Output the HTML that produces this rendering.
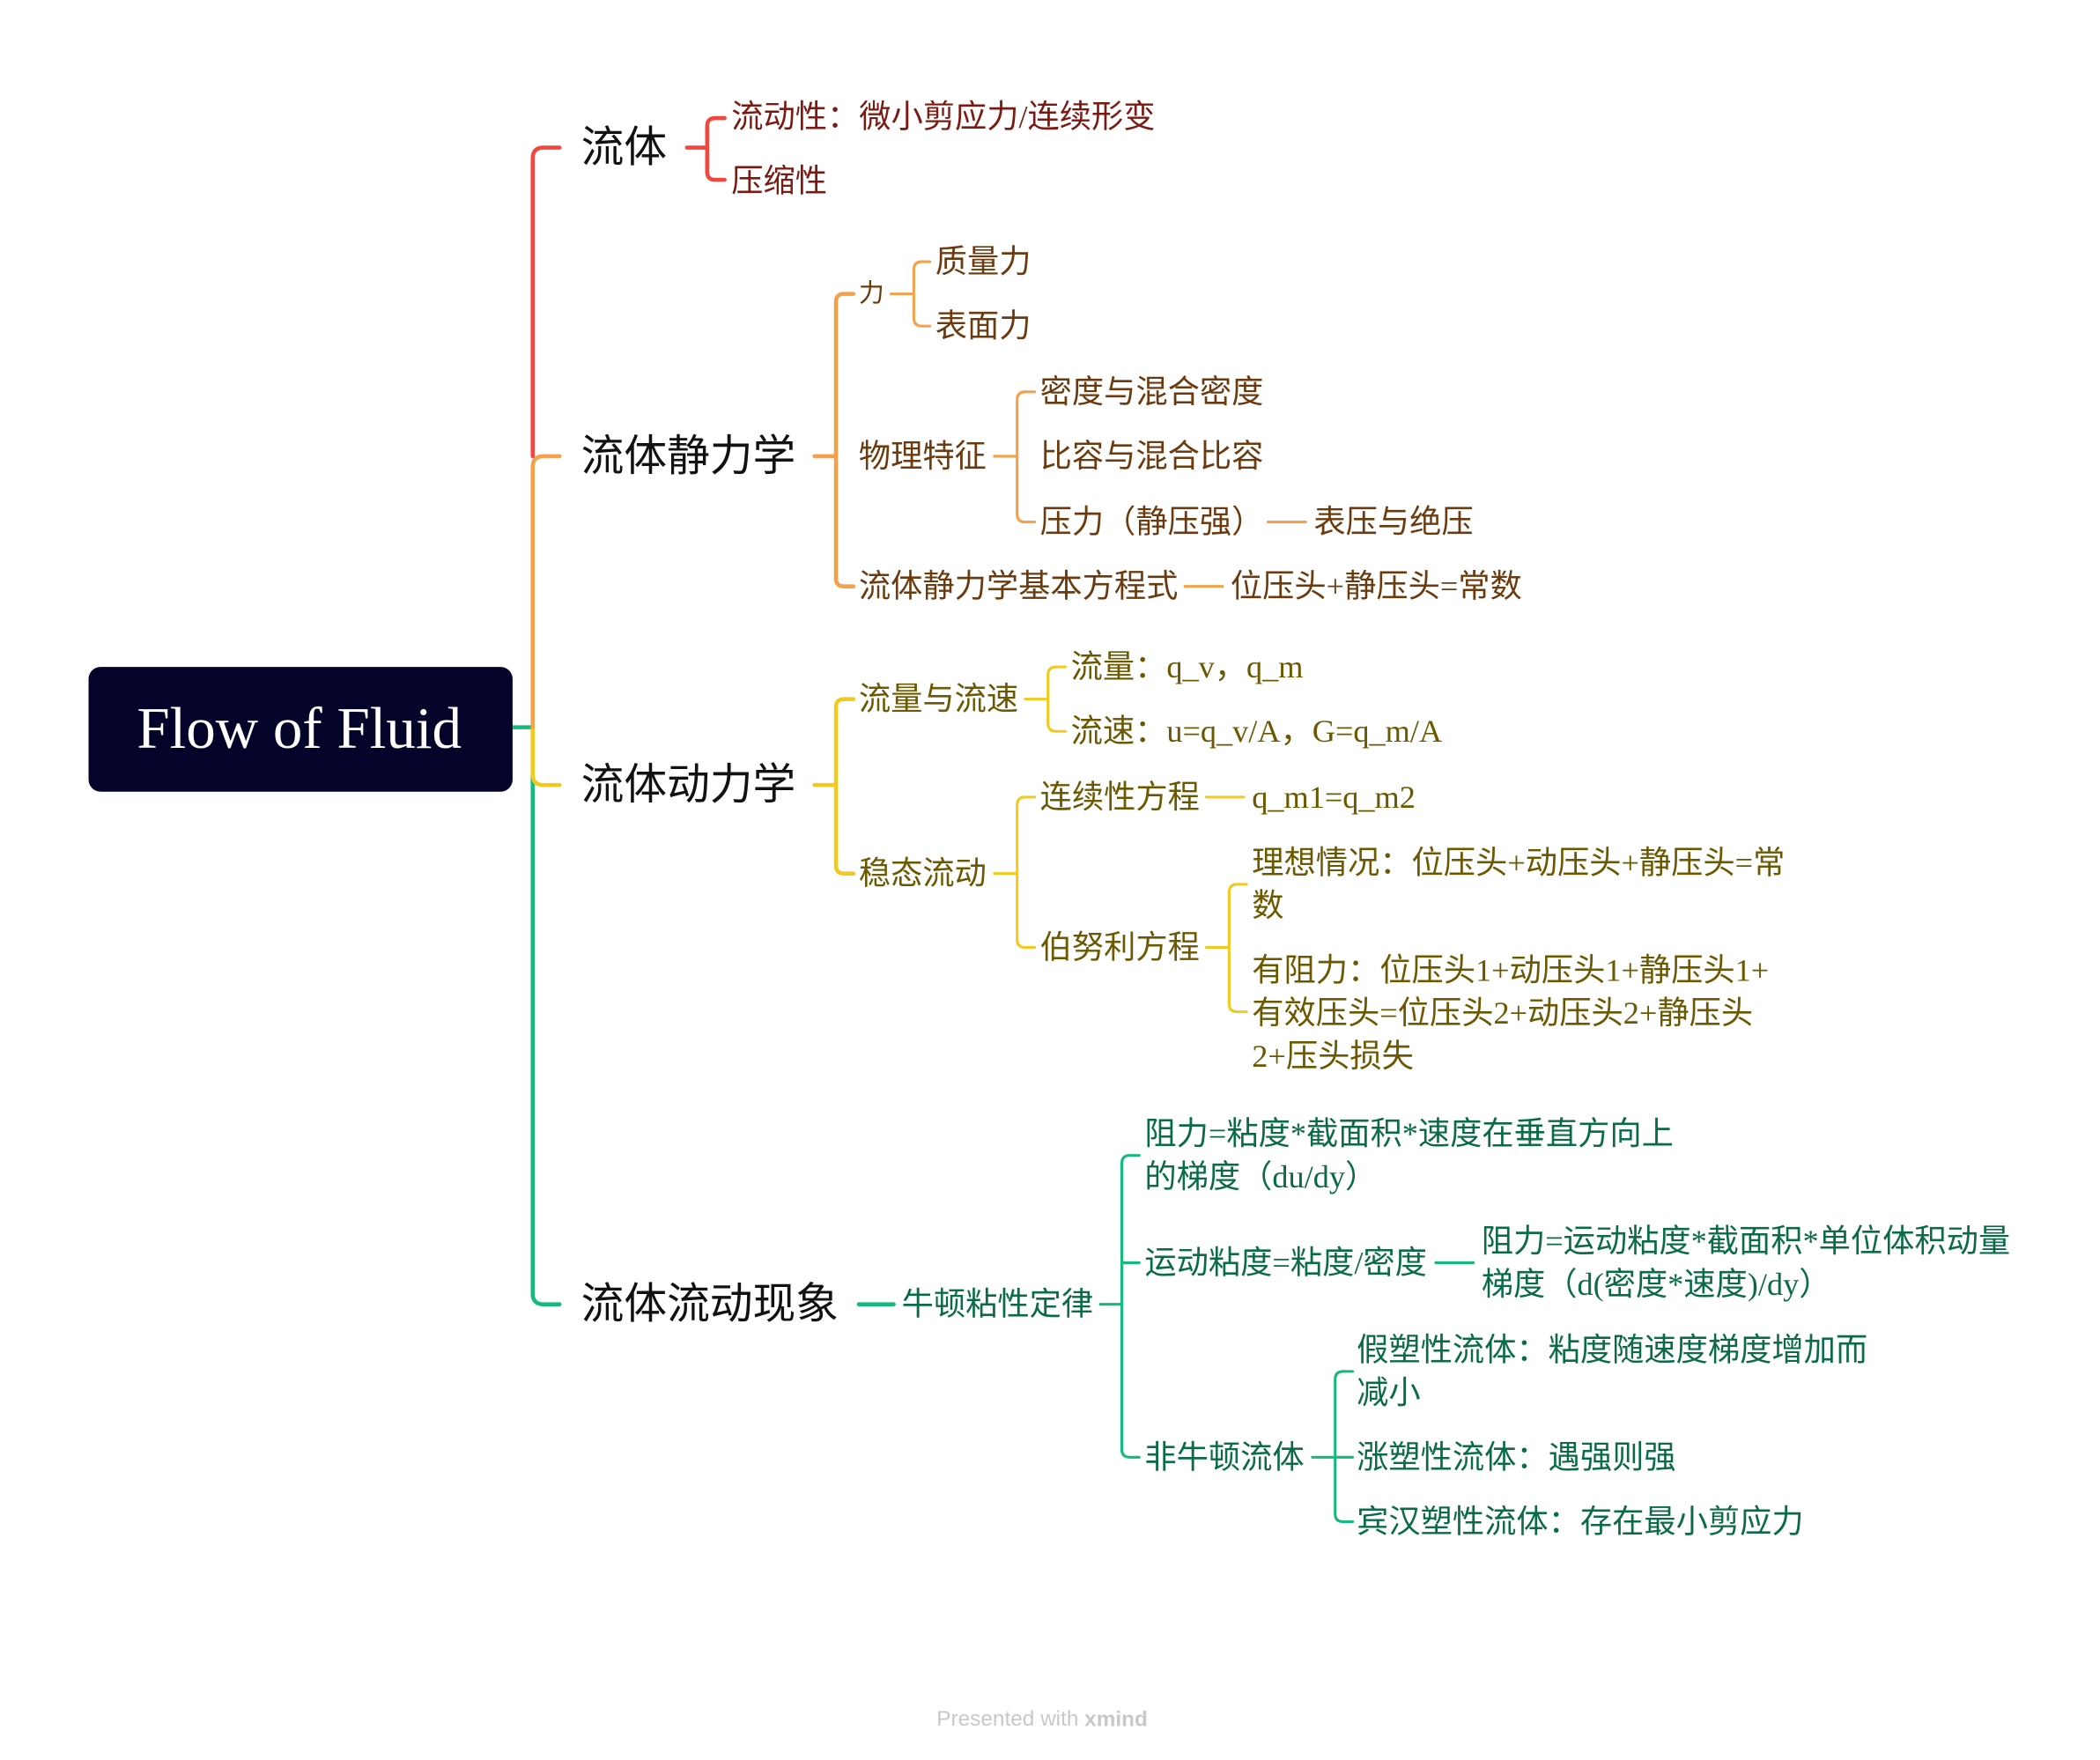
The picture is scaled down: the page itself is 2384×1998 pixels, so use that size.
<!DOCTYPE html>
<html><head><meta charset="utf-8"><style>
html,body{margin:0;padding:0;background:#fff;width:2384px;height:1998px;overflow:hidden}
svg{display:block}
text{font-family:"Liberation Serif","Noto Sans CJK SC",serif;dominant-baseline:central}
.l1{font-family:"Liberation Sans","Noto Sans CJK SC",sans-serif;font-size:32px;fill:#111}
.t{font-size:23.8px}
.r{fill:#7a1a12}.o{fill:#6b3a0e}.y{fill:#6b5800}.g{fill:#0b6b47}
path{fill:none;stroke-linecap:round;stroke-linejoin:round}
</style></head><body>
<svg width="2384" height="1998" viewBox="0 0 1565 1311.6" xmlns="http://www.w3.org/2000/svg">
<!-- trunk -->
<path d="M382 542 H397 V964 Q397 972 405 972 H417" stroke="#14b97b" stroke-width="3"/>
<path d="M397 542 V577 Q397 585 405 585 H417" stroke="#f2c91e" stroke-width="3"/>
<path d="M397 542 V348 Q397 340 405 340 H417" stroke="#f5a04a" stroke-width="3"/>
<path d="M397 340 V118 Q397 110 405 110 H417" stroke="#f2473f" stroke-width="3"/>
<!-- root -->
<rect x="66" y="497" width="316" height="93" rx="9" fill="#04042a"/>
<text x="223" y="543" text-anchor="middle" style="font-size:44px;fill:#fff">Flow of Fluid</text>

<!-- 流体 -->
<text class="l1" x="433" y="110">流体</text>
<path d="M512 110 H527 M540 88 H533 Q527 88 527 94 V128 Q527 134 533 134 H540" stroke="#f2473f" stroke-width="3"/>
<text class="t r" x="545" y="87">流动性：微小剪应力/连续形变</text>
<text class="t r" x="545" y="135">压缩性</text>

<!-- 流体静力学 -->
<text class="l1" x="433" y="340">流体静力学</text>
<path d="M607 340 H623 M636 219 H629 Q623 219 623 225 V431 Q623 437 629 437 H636" stroke="#f5a04a" stroke-width="3"/>
<text class="o" x="640" y="219" style="font-size:19px">力</text>
<path d="M664 219 H681 M693 195 H687 Q681 195 681 201 V237 Q681 243 687 243 H693" stroke="#f5a04a" stroke-width="2"/>
<text class="t o" x="697" y="195">质量力</text>
<text class="t o" x="697" y="243">表面力</text>
<text class="t o" x="640" y="340">物理特征</text>
<path d="M741 340 H758 M771 292 H764 Q758 292 758 298 V383 Q758 389 764 389 H771" stroke="#f5a04a" stroke-width="2"/>
<text class="t o" x="775" y="292">密度与混合密度</text>
<text class="t o" x="775" y="340">比容与混合比容</text>
<text class="t o" x="775" y="389">压力（静压强）</text>
<path d="M945 389 H973" stroke="#f5a04a" stroke-width="2"/>
<text class="t o" x="979" y="389">表压与绝压</text>
<text class="t o" x="640" y="437">流体静力学基本方程式</text>
<path d="M883 437 H911" stroke="#f5a04a" stroke-width="2"/>
<text class="t o" x="917" y="437">位压头+静压头=常数</text>

<!-- 流体动力学 -->
<text class="l1" x="433" y="585">流体动力学</text>
<path d="M607 585 H623 M636 521 H629 Q623 521 623 527 V645 Q623 651 629 651 H636" stroke="#f2c91e" stroke-width="3"/>
<text class="t y" x="640" y="521">流量与流速</text>
<path d="M764 521 H781 M794 497 H787 Q781 497 781 503 V539 Q781 545 787 545 H794" stroke="#f2c91e" stroke-width="2"/>
<text class="t y" x="798" y="497">流量：q_v，q_m</text>
<text class="t y" x="798" y="545">流速：u=q_v/A，G=q_m/A</text>
<text class="t y" x="640" y="651">稳态流动</text>
<path d="M741 651 H758 M771 594 H764 Q758 594 758 600 V700 Q758 706 764 706 H771" stroke="#f2c91e" stroke-width="2"/>
<text class="t y" x="775" y="594">连续性方程</text>
<path d="M899 594 H927" stroke="#f2c91e" stroke-width="2"/>
<text class="t y" x="933" y="594">q_m1=q_m2</text>
<text class="t y" x="775" y="706">伯努利方程</text>
<path d="M899 706 H916 M929 659 H922 Q916 659 916 665 V748 Q916 754 922 754 H929" stroke="#f2c91e" stroke-width="2"/>
<text class="t y" x="933" y="643">理想情况：位压头+动压头+静压头=常</text>
<text class="t y" x="933" y="675">数</text>
<text class="t y" x="933" y="723">有阻力：位压头1+动压头1+静压头1+</text>
<text class="t y" x="933" y="755">有效压头=位压头2+动压头2+静压头</text>
<text class="t y" x="933" y="787">2+压头损失</text>

<!-- 流体流动现象 -->
<text class="l1" x="433" y="972">流体流动现象</text>
<path d="M640 972 H666" stroke="#14b97b" stroke-width="3"/>
<text class="t g" x="672" y="972">牛顿粘性定律</text>
<path d="M820 972 H836 M849 861 H842 Q836 861 836 867 V1080 Q836 1086 842 1086 H849 M836 941 H849" stroke="#14b97b" stroke-width="2"/>
<text class="t g" x="853" y="845">阻力=粘度*截面积*速度在垂直方向上</text>
<text class="t g" x="853" y="877">的梯度（du/dy）</text>
<text class="t g" x="853" y="941">运动粘度=粘度/密度</text>
<path d="M1070 941 H1098" stroke="#14b97b" stroke-width="2"/>
<text class="t g" x="1104" y="925">阻力=运动粘度*截面积*单位体积动量</text>
<text class="t g" x="1104" y="957">梯度（d(密度*速度)/dy）</text>
<text class="t g" x="853" y="1086">非牛顿流体</text>
<path d="M978 1086 H995 M1008 1022 H1001 Q995 1022 995 1028 V1128 Q995 1134 1001 1134 H1008 M995 1086 H1008" stroke="#14b97b" stroke-width="2"/>
<text class="t g" x="1011" y="1006">假塑性流体：粘度随速度梯度增加而</text>
<text class="t g" x="1011" y="1038">减小</text>
<text class="t g" x="1011" y="1086">涨塑性流体：遇强则强</text>
<text class="t g" x="1011" y="1134">宾汉塑性流体：存在最小剪应力</text>

<text x="698" y="1281" style="font-family:'Liberation Sans',sans-serif;font-size:16px;fill:#c8c8c8">Presented with <tspan style="font-weight:bold">xmind</tspan></text>
</svg>
</body></html>
